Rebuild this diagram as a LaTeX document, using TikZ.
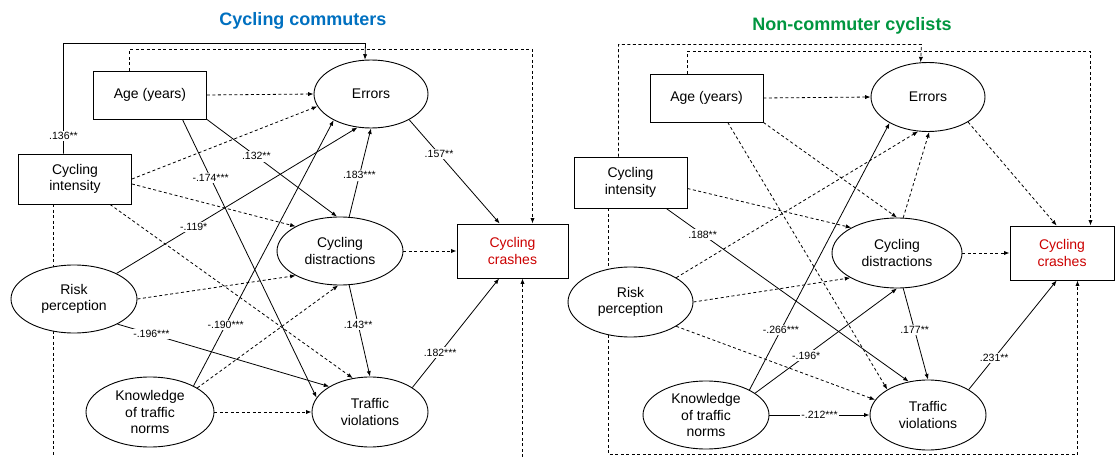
\documentclass[tikz,border=0pt]{standalone}
\usepackage{fontspec}
\setmainfont{Liberation Sans}
\usetikzlibrary{arrows.meta,backgrounds,shapes.geometric}
\definecolor{ttlblue}{RGB}{0,112,192}
\definecolor{ttlgreen}{RGB}{0,150,64}
\definecolor{crashred}{RGB}{204,0,0}
\begin{document}
\begin{tikzpicture}[x=1pt,y=-1pt,
  every node/.style={font=\fontsize{14}{16.5}\selectfont, align=center},
  box/.style={draw, line width=0.9pt, fill=white, minimum width=113pt, minimum height=48pt, inner sep=0pt},
  oval/.style={draw, ellipse, line width=0.9pt, inner sep=0pt, fill=white},
  conn/.style={line width=0.8pt, -{Latex[length=5.5pt,width=4.2pt]}},
  dconn/.style={conn, dash pattern=on 3pt off 2.5pt},
  dsh/.style={line width=0.8pt, dash pattern=on 3pt off 2.5pt},
  lab/.style={font=\fontsize{10.5}{12}\selectfont, fill=white, inner sep=1.5pt},
  ttl/.style={font=\fontsize{18}{20}\selectfont\bfseries}
]
\useasboundingbox (0,0) rectangle (1116,457);

% ---------------- Left panel ----------------
\node[ttl, text=ttlblue] (tL) at (303,21) {Cycling commuters};
\node[box] (ageL) at (150,95) {Age (years)};
\node[oval, minimum width=114pt, minimum height=68pt] (errL) at (371,94) {Errors};
\node[box, minimum height=50pt] (intL) at (75,179) {Cycling\\intensity};
\node[oval, minimum width=126pt, minimum height=68pt] (disL) at (340,251) {Cycling\\distractions};
\node[box, minimum width=111pt, minimum height=54pt, text=crashred] (crL) at (512.5,251) {Cycling\\crashes};
\node[oval, minimum width=126pt, minimum height=68pt] (riskL) at (74,299) {Risk\\perception};
\node[oval, minimum width=128pt, minimum height=70pt] (knoL) at (150,412) {Knowledge\\of traffic\\norms};
\node[oval, minimum width=116pt, minimum height=70pt] (traL) at (370,412) {Traffic\\violations};

\coordinate (fL1) at (53.5,457);
\coordinate (fL2) at (522.5,457);
\begin{scope}[on background layer]
  \draw[dsh] ([xshift=-21.5pt]intL.south) -- (fL1);
  \draw[dconn] (fL2) -- ([xshift=10pt]crL.south);
\end{scope}

\draw[conn] ([xshift=-11.5pt]intL.north) -- node[lab,pos=0.16]{.136**} (63.5,43.5) -- (365.5,43.5) -- (errL.100);
\draw[dconn] ([xshift=-20.5pt]ageL.north) -- (129.5,49.5) -- (532.5,49.5) -- ([xshift=20pt]crL.north);

\draw[conn] (ageL.south east) -- node[lab,pos=0.38]{.132**} (disL.95);
\draw[conn] (ageL.-37) -- node[lab,pos=0.21]{-.174***} (traL.165);
\draw[conn] (riskL.31) -- node[lab,pos=0.32]{-.119*} (errL.248);
\draw[conn] (knoL.31) -- node[lab,pos=0.23]{-.190***} (errL.215);
\draw[conn] (errL.-34) -- node[lab,pos=0.33]{.157**} (crL.115);
\draw[conn] (disL.75) -- node[lab,pos=0.47]{.183***} (errL.270);
\draw[conn] (disL.-75) -- node[lab,pos=0.43]{.143**} (traL.90);
\draw[conn] (riskL.-30) -- node[lab,pos=0.16]{-.196***} (traL.148);
\draw[conn] (traL.30) -- node[lab,pos=0.32]{.182***} (crL.-116);

\draw[dconn] (ageL.east) -- (errL.west);
\draw[dconn] (intL.east) -- (errL.193);
\draw[dconn] (intL.-5) -- (disL.151);
\draw[dconn] (intL.-36) -- (traL.117);
\draw[dconn] (riskL.east) -- (disL.209);
\draw[dconn] (knoL.27) -- (disL.267);
\draw[dconn] (knoL.east) -- (traL.west);
\draw[dconn] (disL.east) -- (crL.west);

% ---------------- Right panel ----------------
\node[ttl, text=ttlgreen] (tR) at (852,26) {Non-commuter cyclists};
\node[box] (ageR) at (706.5,98) {Age (years)};
\node[oval, minimum width=114pt, minimum height=69pt] (errR) at (928,97) {Errors};
\node[box, minimum height=51pt] (intR) at (630.5,182.5) {Cycling\\intensity};
\node[oval, minimum width=130pt, minimum height=70pt] (disR) at (897,253) {Cycling\\distractions};
\node[box, minimum width=104pt, minimum height=54pt, text=crashred] (crR) at (1062,253) {Cycling\\crashes};
\node[oval, minimum width=125pt, minimum height=70pt] (riskR) at (630.5,302) {Risk\\perception};
\node[oval, minimum width=126pt, minimum height=68pt] (knoR) at (706,415) {Knowledge\\of traffic\\norms};
\node[oval, minimum width=116pt, minimum height=70pt] (traR) at (928,415) {Traffic\\violations};

\begin{scope}[on background layer]
  \draw[dconn] ([xshift=-22pt]intR.south) -- (608.5,454.5) -- (1077.5,454.5) -- ([xshift=15.5pt]crR.south);
\end{scope}

\draw[dconn] ([xshift=-12pt]intR.north) -- (618.5,44.5) -- (921.5,44.5) -- (errR.102);
\draw[dconn] ([xshift=-19pt]ageR.north) -- (687.5,51.5) -- (1090.5,51.5) -- ([xshift=28.5pt]crR.north);

\draw[conn] (intR.-36) -- node[lab,pos=0.15]{.188**} (traR.120);
\draw[conn] (knoR.30) -- node[lab,pos=0.225]{-.266***} (errR.214);
\draw[conn] (knoR.24) -- node[lab,pos=0.36]{-.196*} (disR.270);
\draw[conn] (disR.-80) -- node[lab,pos=0.46]{.177**} (traR.90);
\draw[conn] (knoR.east) -- node[lab]{-.212***} (traR.west);
\draw[conn] (traR.32) -- node[lab,pos=0.29]{.231**} (crR.-101);

\draw[dconn] (ageR.east) -- (errR.west);
\draw[dconn] (ageR.south east) -- (disR.90);
\draw[dconn] (ageR.-49) -- (traR.148);
\draw[dconn] (intR.-6) -- (disR.151);
\draw[dconn] (riskR.28) -- (errR.254);
\draw[dconn] (riskR.east) -- (disR.208);
\draw[dconn] (riskR.-28) -- (traR.164);
\draw[dconn] (disR.80) -- (errR.272);
\draw[dconn] (disR.east) -- (crR.west);
\draw[dconn] (errR.-32) -- (crR.101);
\end{tikzpicture}
\end{document}
